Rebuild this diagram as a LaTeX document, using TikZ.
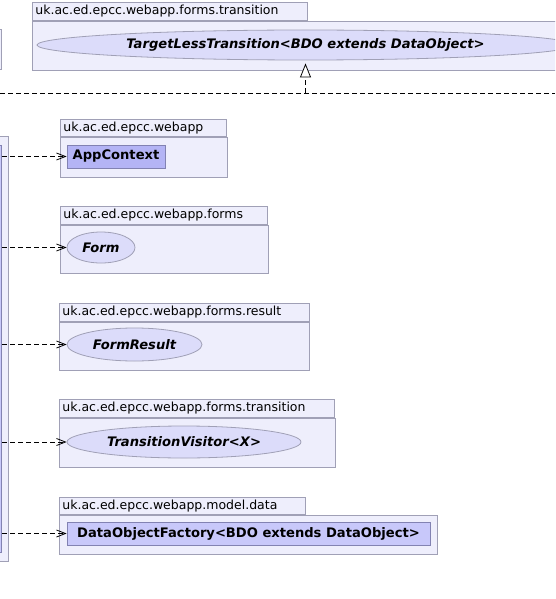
\documentclass[tikz,border=0pt]{standalone}
\usepackage{fontspec}
\setmainfont{DejaVu Sans}
\usepackage{tikz}
\usetikzlibrary{shapes.geometric,arrows.meta}
\definecolor{pkgfill}{RGB}{238,238,252}
\definecolor{pkgline}{RGB}{160,160,182}
\definecolor{ifacefill}{RGB}{220,220,250}
\definecolor{classfill}{RGB}{200,200,250}
\definecolor{classdark}{RGB}{180,180,245}
\definecolor{classline}{RGB}{130,130,178}
\newcommand{\umlfont}{\fontsize{12.5}{15}\selectfont}
\newcommand{\umlboldfont}{\fontsize{13.1}{15}\selectfont\bfseries}
\tikzstyle{pkgtab}=[rectangle,draw=pkgline,fill=pkgfill,line width=0.8pt,anchor=north west,inner xsep=3pt,inner ysep=0pt,align=left,font=\umlfont]
\tikzstyle{pkgbody}=[rectangle,draw=pkgline,fill=pkgfill,line width=0.8pt,anchor=north west,inner sep=0pt]
\tikzstyle{iface}=[ellipse,draw=pkgline,fill=ifacefill,line width=0.8pt,inner sep=0pt,font=\umlboldfont\itshape]
\tikzstyle{class}=[rectangle,draw=classline,fill=classfill,line width=0.8pt,inner sep=0pt,font=\umlboldfont]
\tikzstyle{depend}=[draw,line width=0.8pt,dash pattern=on 5pt off 3pt,-{Straight Barb[length=9pt,width=7pt]}]
\tikzstyle{realize}=[draw,line width=0.8pt,dash pattern=on 5pt off 3pt,-{Triangle[open,fill=white,length=14pt,width=11pt]}]
\begin{document}
\begin{tikzpicture}[x=1pt,y=-1pt]
  \useasboundingbox (0,0) rectangle (555,599);
  \fill[white] (0,0) rectangle (555,599);
  \clip (0,0) rectangle (555,599);
  % cut off at the left
  \node[pkgbody,anchor=north east,minimum width=22,minimum height=40] (leftPkg) at (2,29) {};
  \node[pkgbody,anchor=north east,minimum width=29,minimum height=425] (clientPkg) at (9,136) {};
  \node[class,anchor=north east,minimum width=22,minimum height=407] (client) at (2,145) {};
  % packages
  \node[pkgtab,minimum height=18,text width=269] (transTopTab) at (32,2) {uk.ac.ed.epcc.webapp.forms.transition};
  \node[pkgbody,minimum width=560,minimum height=49] (transTopBody) at (transTopTab.south west) {};
  \node[pkgtab,minimum height=17,text width=160] (appTab) at (60,119) {uk.ac.ed.epcc.webapp};
  \node[pkgbody,minimum width=167,minimum height=40] (appBody) at (appTab.south west) {};
  \node[pkgtab,minimum height=18,text width=201] (formsTab) at (60,206) {uk.ac.ed.epcc.webapp.forms};
  \node[pkgbody,minimum width=208,minimum height=48] (formsBody) at (formsTab.south west) {};
  \node[pkgtab,minimum height=18,text width=244] (resultTab) at (59,303) {uk.ac.ed.epcc.webapp.forms.result};
  \node[pkgbody,minimum width=250,minimum height=48] (resultBody) at (resultTab.south west) {};
  \node[pkgtab,minimum height=18,text width=269] (transTab) at (59,399) {uk.ac.ed.epcc.webapp.forms.transition};
  \node[pkgbody,minimum width=276,minimum height=49] (transBody) at (transTab.south west) {};
  \node[pkgtab,minimum height=17,text width=240] (dataTab) at (59,497) {uk.ac.ed.epcc.webapp.model.data};
  \node[pkgbody,minimum width=378,minimum height=39] (dataBody) at (dataTab.south west) {};
  % classes and interfaces
  \node[iface,minimum width=537,minimum height=30] (targetLess) at (305.5,45) {TargetLessTransition<BDO extends DataObject>};
  \node[class,fill=classdark,minimum width=98,minimum height=23] (appCtx) at (116,156.5) {AppContext};
  \node[iface,minimum width=68,minimum height=31] (form) at (101,247.5) {Form};
  \node[iface,minimum width=135,minimum height=33] (formResult) at (134.5,344.5) {FormResult};
  \node[iface,minimum width=234,minimum height=32] (visitor) at (184,442) {TransitionVisitor<X>};
  \node[class,minimum width=363,minimum height=23] (factory) at (248.5,533.5) {DataObjectFactory<BDO extends DataObject>};
  % realization
  \coordinate (busL) at (0,93);
  \coordinate (busR) at (555,93);
  \draw[line width=0.8pt,dash pattern=on 5pt off 3pt] (busL) -- (busR);
  \path[realize,shorten >=3pt] (targetLess.south |- busL) -- (targetLess.south);
  % dependencies
  \path[depend] (client.east |- appCtx.west) -- (appCtx.west);
  \path[depend] (client.east |- form.west) -- (form.west);
  \path[depend] (client.east |- formResult.west) -- (formResult.west);
  \path[depend] (client.east |- visitor.west) -- (visitor.west);
  \path[depend] (client.east |- factory.west) -- (factory.west);
\end{tikzpicture}
\end{document}
